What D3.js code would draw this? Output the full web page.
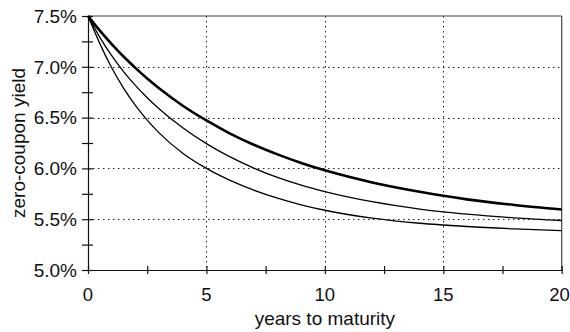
<!DOCTYPE html>
<html>
<head>
<meta charset="utf-8">
<script src="https://cdn.jsdelivr.net/npm/d3@7"></script>
<style>
  html, body { margin: 0; padding: 0; background: #fff; }
  svg { display: block; }
  text { font-family: "Liberation Sans", Arial, Helvetica, sans-serif; fill: #111; }
</style>
</head>
<body>
<svg id="chart" width="570" height="332"></svg>
<script>
// ---- data ----
const maturities = [0, 0.5, 1, 1.5, 2, 2.5, 3, 4, 5, 6, 7, 8, 9, 10, 12, 14, 15, 16, 18, 20];
const yieldHigh  = [7.5, 7.356, 7.224, 7.101, 6.989, 6.884, 6.788, 6.617, 6.472, 6.343, 6.233, 6.138, 6.054, 5.981, 5.862, 5.77, 5.73, 5.695, 5.64, 5.595];
const yieldMid   = [7.5, 7.29, 7.109, 6.953, 6.817, 6.696, 6.588, 6.40, 6.244, 6.113, 6.003, 5.911, 5.835, 5.772, 5.672, 5.60, 5.572, 5.549, 5.513, 5.487];
const yieldLow   = [7.5, 7.228, 6.99, 6.79, 6.62, 6.475, 6.35, 6.15, 6.0, 5.882, 5.786, 5.707, 5.642, 5.588, 5.51, 5.46, 5.443, 5.428, 5.405, 5.387];
const xTickLabels = [0, 5, 10, 15, 20];
const xMinorTicks = [0, 2.5, 5, 7.5, 10, 12.5, 15, 17.5, 20];
const yTickLabels = [5.0, 5.5, 6.0, 6.5, 7.0, 7.5];
const yMinorTicks = [5.0, 5.25, 5.5, 5.75, 6.0, 6.25, 6.5, 6.75, 7.0, 7.25, 7.5];
const xTitle = "years to maturity";
const yTitle = "zero-coupon yield";

// ---- layout ----
const W = 570, L = 88, R = 561.7, T = 16, B = 270;
const svg = d3.select("#chart");
const x = d3.scaleLinear().domain([0, 20]).range([L, R]);
const y = d3.scaleLinear().domain([5.0, 7.5]).range([B, T]);

// grid (dotted)
const grid = svg.append("g").attr("stroke", "#222").attr("stroke-width", 1)
  .attr("stroke-dasharray", "1.5,3.5").attr("fill", "none");
grid.selectAll("line.v").data(xTickLabels.filter(d => d > 0 && d < 20)).join("line")
  .attr("class", "v")
  .attr("x1", d => Math.round(x(d)) + 0.5).attr("x2", d => Math.round(x(d)) + 0.5)
  .attr("y1", T).attr("y2", B);
grid.selectAll("line.h").data(yTickLabels.filter(d => d > 5 && d < 7.5)).join("line")
  .attr("class", "h")
  .attr("x1", L).attr("x2", R)
  .attr("y1", d => Math.round(y(d)) + 0.5).attr("y2", d => Math.round(y(d)) + 0.5);

// frame: top + right
svg.append("line").attr("x1", L).attr("x2", R).attr("y1", T).attr("y2", T)
  .attr("stroke", "#444").attr("stroke-width", 1.2);
svg.append("line").attr("x1", R).attr("x2", R).attr("y1", T).attr("y2", B)
  .attr("stroke", "#444").attr("stroke-width", 1.2);

// x axis with crossing ticks
const xAxis = d3.axisBottom(x).tickValues(xMinorTicks).tickSize(0).tickFormat("");
const gx = svg.append("g").attr("transform", `translate(0,${B})`).call(xAxis);
gx.select(".domain").attr("stroke", "#111").attr("stroke-width", 1.2);
gx.selectAll(".tick line").attr("y1", -4).attr("y2", 4).attr("stroke", "#111").attr("stroke-width", 1.2);

// x tick labels
const fs = 18.5;
svg.append("g").selectAll("text").data(xTickLabels).join("text")
  .attr("x", d => Math.min(x(d), W - 10.5)).attr("y", 301)
  .attr("text-anchor", "middle").attr("font-size", fs)
  .text(d => d3.format("d")(d));

// y axis with crossing ticks
const yAxis = d3.axisLeft(y).tickValues(yMinorTicks).tickSize(0).tickFormat("");
const gy = svg.append("g").attr("transform", `translate(${L},0)`).call(yAxis);
gy.select(".domain").attr("stroke", "#111").attr("stroke-width", 1.2);
gy.selectAll(".tick line").attr("x1", -6).attr("x2", 5).attr("stroke", "#111").attr("stroke-width", 1.2);

// y tick labels
svg.append("g").selectAll("text").data(yTickLabels).join("text")
  .attr("x", 77).attr("y", d => y(d)).attr("dy", "0.36em")
  .attr("text-anchor", "end").attr("font-size", 19)
  .text(d => d3.format(".1f")(d) + "%");

// axis titles
svg.append("text").attr("x", (L + R) / 2).attr("y", 325)
  .attr("text-anchor", "middle").attr("font-size", 19).text(xTitle);
svg.append("text").attr("transform", `translate(25,${(T + B) / 2}) rotate(-90)`)
  .attr("text-anchor", "middle").attr("font-size", 19).text(yTitle);

// curves
const line = d3.line().x(d => x(d[0])).y(d => y(d[1])).curve(d3.curveMonotoneX);
const series = [
  { values: yieldLow,  width: 1.3 },
  { values: yieldMid,  width: 1.3 },
  { values: yieldHigh, width: 2.6 }
];
svg.append("g").selectAll("path").data(series).join("path")
  .attr("fill", "none").attr("stroke", "#000")
  .attr("stroke-width", d => d.width)
  .attr("stroke-linejoin", "round")
  .attr("d", d => line(maturities.map((m, i) => [m, d.values[i]])));
</script>
</body>
</html>
